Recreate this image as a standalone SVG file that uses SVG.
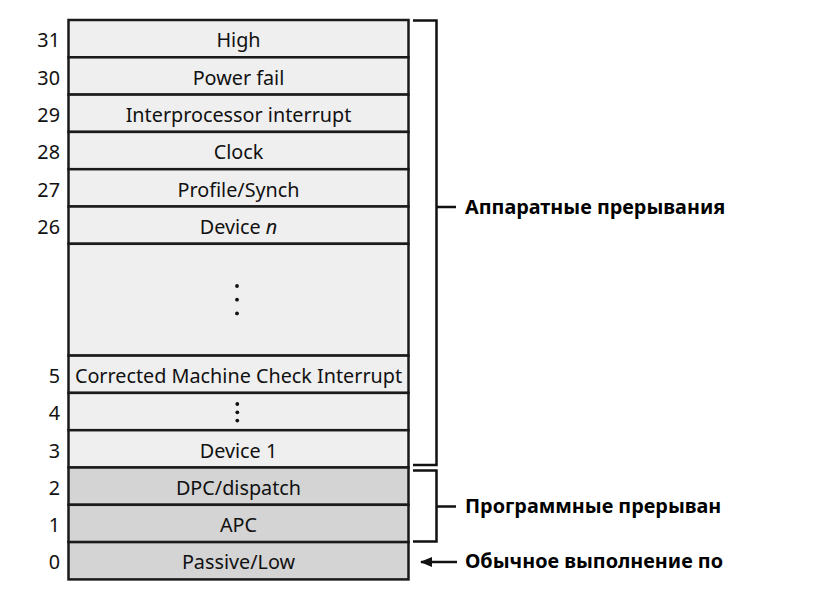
<svg xmlns="http://www.w3.org/2000/svg" width="840" height="594" viewBox="0 0 840 594">
<defs>
<style>
.light{fill:#efefef;stroke:#1a1a1a;stroke-width:2.5}
.dark{fill:#d4d4d4;stroke:#1a1a1a;stroke-width:2.5}
.t{font-family:"Noto Sans","Open Sans",sans-serif;font-size:19.8px;fill:#111;text-anchor:middle}
.n{font-family:"Noto Sans","Open Sans",sans-serif;font-size:19.8px;fill:#111;text-anchor:end}
.b{font-family:"Noto Sans","Open Sans",sans-serif;font-size:19.8px;font-weight:bold;fill:#000}
.br{fill:none;stroke:#111;stroke-width:2.5}
.dot{fill:#111}
</style>
<marker id="ah" viewBox="0 0 10 10" refX="9" refY="5" markerWidth="5" markerHeight="5" orient="auto-start-reverse">
<path d="M0,1 L10,5 L0,9 z" fill="#111"/>
</marker>
<clipPath id="clip"><rect x="0" y="0" width="727" height="594"/></clipPath>
</defs>
<rect width="840" height="594" fill="#fff"/>
<g id="l31"><rect class="light" x="68.5" y="20" width="340" height="37.3"/><text class="n" x="60" y="47.3">31</text><text class="t" x="238.5" y="47.3">High</text></g>
<g id="l30"><rect class="light" x="68.5" y="57.3" width="340" height="37.3"/><text class="n" x="60" y="84.6">30</text><text class="t" x="238.5" y="84.6">Power fail</text></g>
<g id="l29"><rect class="light" x="68.5" y="94.6" width="340" height="37.3"/><text class="n" x="60" y="121.9">29</text><text class="t" x="238.5" y="121.9">Interprocessor interrupt</text></g>
<g id="l28"><rect class="light" x="68.5" y="131.9" width="340" height="37.3"/><text class="n" x="60" y="159.2">28</text><text class="t" x="238.5" y="159.2">Clock</text></g>
<g id="l27"><rect class="light" x="68.5" y="169.2" width="340" height="37.3"/><text class="n" x="60" y="196.5">27</text><text class="t" x="238.5" y="196.5">Profile/Synch</text></g>
<g id="l26"><rect class="light" x="68.5" y="206.5" width="340" height="37.3"/><text class="n" x="60" y="233.8">26</text><text class="t" x="238.5" y="233.8">Device <tspan font-style="italic">n</tspan></text></g>
<g id="lgap"><rect class="light" x="68.5" y="243.8" width="340" height="111.8"/><circle class="dot" cx="237" cy="286" r="1.9"/><circle class="dot" cx="237" cy="299.7" r="1.9"/><circle class="dot" cx="237" cy="313.4" r="1.9"/></g>
<g id="l5"><rect class="light" x="68.5" y="355.6" width="340" height="37.3"/><text class="n" x="60" y="382.9">5</text><text class="t" x="238.5" y="382.9">Corrected Machine Check Interrupt</text></g>
<g id="l4"><rect class="light" x="68.5" y="392.9" width="340" height="37.3"/><text class="n" x="60" y="420.2">4</text><circle class="dot" cx="237.3" cy="404" r="1.9"/><circle class="dot" cx="237.3" cy="412.3" r="1.9"/><circle class="dot" cx="237.3" cy="420.6" r="1.9"/></g>
<g id="l3"><rect class="light" x="68.5" y="430.2" width="340" height="37.3"/><text class="n" x="60" y="457.5">3</text><text class="t" x="238.5" y="457.5">Device 1</text></g>
<g id="l2"><rect class="dark" x="68.5" y="467.5" width="340" height="37.3"/><text class="n" x="60" y="494.8">2</text><text class="t" x="238.5" y="494.8">DPC/dispatch</text></g>
<g id="l1"><rect class="dark" x="68.5" y="504.8" width="340" height="37.3"/><text class="n" x="60" y="532.1">1</text><text class="t" x="238.5" y="532.1">APC</text></g>
<g id="l0"><rect class="dark" x="68.5" y="542.1" width="340" height="37.3"/><text class="n" x="60" y="569.4">0</text><text class="t" x="238.5" y="569.4">Passive/Low</text></g>
<g id="connectors">
<path class="br" d="M413,20.5 H436.5 V465 H413 M436.5,207 H456"/>
<path class="br" d="M413,470.5 H436.5 V541.5 H413 M436.5,506.5 H456"/>
<line class="br" x1="457" y1="562" x2="421" y2="562" marker-end="url(#ah)"/>
</g>
<g id="labels" clip-path="url(#clip)">
<text class="b" x="465" y="213.5">Аппаратные прерывания</text>
<text class="b" x="465" y="513">Программные прерыван</text>
<text class="b" x="465" y="568">Обычное выполнение по</text>
</g>
</svg>
